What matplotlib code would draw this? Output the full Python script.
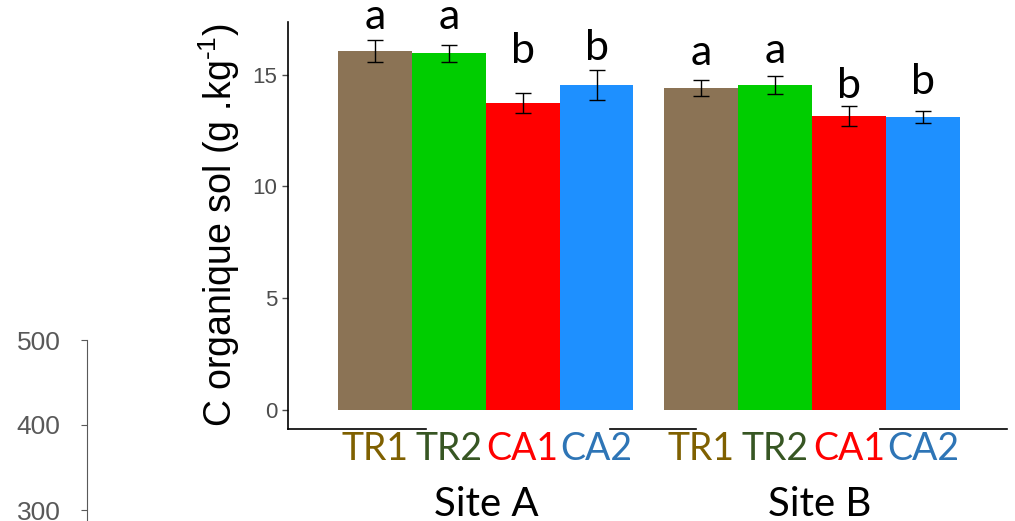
import matplotlib
matplotlib.use("Agg")
import matplotlib.pyplot as plt
import matplotlib.transforms as mtransforms

# values
sites = ["Site A", "Site B"]
treatments = ["TR1", "TR2", "CA1", "CA2"]
site_a_mean = [16.06, 15.97, 13.74, 14.54]
site_a_err = [0.49, 0.38, 0.45, 0.67]
site_b_mean = [14.41, 14.54, 13.15, 13.11]
site_b_err = [0.36, 0.40, 0.45, 0.25]
letters_a = ["a", "a", "b", "b"]
letters_b = ["a", "a", "b", "b"]
letter_y_a = [17.05, 17.05, 15.53, 15.66]
letter_y_b = [15.44, 15.53, 13.96, 14.14]
yticks = [0, 5, 10, 15]
stray_ticks = [300, 400, 500]

bar_colors = ["#8B7355", "#00CD00", "#FF0000", "#1E90FF"]
label_colors = ["#7F6000", "#375623", "#FF0000", "#2E75B6"]

plt.rcParams["mathtext.fontset"] = "custom"
plt.rcParams["mathtext.rm"] = "Liberation Sans"
plt.rcParams["mathtext.default"] = "regular"

W, H = 1015, 521
fig = plt.figure(figsize=(W / 100, H / 100), dpi=100)

# main axes
ax = fig.add_axes([288 / W, 92 / H, (1007 - 288) / W, (499 - 92) / H])
gap = 0.42
xa = [i for i in range(4)]
xb = [i + 4 + gap for i in range(4)]

ax.bar(xa, site_a_mean, width=1.0, color=bar_colors)
ax.bar(xb, site_b_mean, width=1.0, color=bar_colors)
ax.errorbar(xa, site_a_mean, yerr=site_a_err, fmt="none", ecolor="black",
            elinewidth=1, capsize=5.8, capthick=1)
ax.errorbar(xb, site_b_mean, yerr=site_b_err, fmt="none", ecolor="black",
            elinewidth=1, capsize=5.8, capthick=1)

for x, y, s in zip(xa + xb, letter_y_a + letter_y_b, letters_a + letters_b):
    ax.text(x, y, s, ha="center", va="baseline", fontsize=31,
            family="Lato", clip_on=False)

ax.set_xlim(-1.18, 8.56)
ax.set_ylim(-0.85, 17.36)
ax.set_yticks(yticks)
ax.tick_params(axis="y", colors="#4D4D4D", labelsize=16, length=4, width=1,
               pad=3.5)
for lab in ax.get_yticklabels():
    lab.set_family("Liberation Sans")
ax.set_xticks(xa + xb)
ax.set_xticklabels(treatments * 2, fontsize=27, family="Lato")
for lab, c in zip(ax.get_xticklabels(), label_colors * 2):
    lab.set_color(c)
ax.tick_params(axis="x", length=0, pad=1.5)

for s in ["top", "right", "bottom"]:
    ax.spines[s].set_visible(False)
ax.spines["left"].set_linewidth(1.2)
# broken bottom line, as in the original
for x0, x1 in [(288, 426), (610, 696), (880, 1007)]:
    ax.axhline(-0.85, xmin=(x0 - 288) / 719, xmax=(x1 - 288) / 719,
               color="black", lw=1.2, clip_on=False)

ax.set_ylabel("C organique sol (g .kg$^{\\text{-1}}$)", fontsize=27,
              family="Liberation Sans", labelpad=8)

trans = mtransforms.blended_transform_factory(ax.transData, fig.transFigure)
ax.text(sum(xa) / 4, 5 / H, sites[0], transform=trans, ha="center",
        va="baseline", fontsize=29, family="Lato")
ax.text(sum(xb) / 4 + 0.1, 5 / H, sites[1], transform=trans, ha="center",
        va="baseline", fontsize=29, family="Lato")

# partial axis of a neighbouring chart on the left
ax2 = fig.add_axes([87 / W, 0, 0.0005, (521 - 340) / H])
ax2.set_ylim(500 - 181 * 100 / 85, 500)
ax2.set_yticks(stray_ticks)
ax2.set_xticks([])
for s in ["top", "right", "bottom"]:
    ax2.spines[s].set_visible(False)
ax2.spines["left"].set_color("#595959")
ax2.tick_params(axis="y", colors="#595959", labelsize=19, length=4, pad=15)
for lab in ax2.get_yticklabels():
    lab.set_family("Liberation Sans")
ax2.patch.set_visible(False)

fig.savefig("out.png", dpi=100)
